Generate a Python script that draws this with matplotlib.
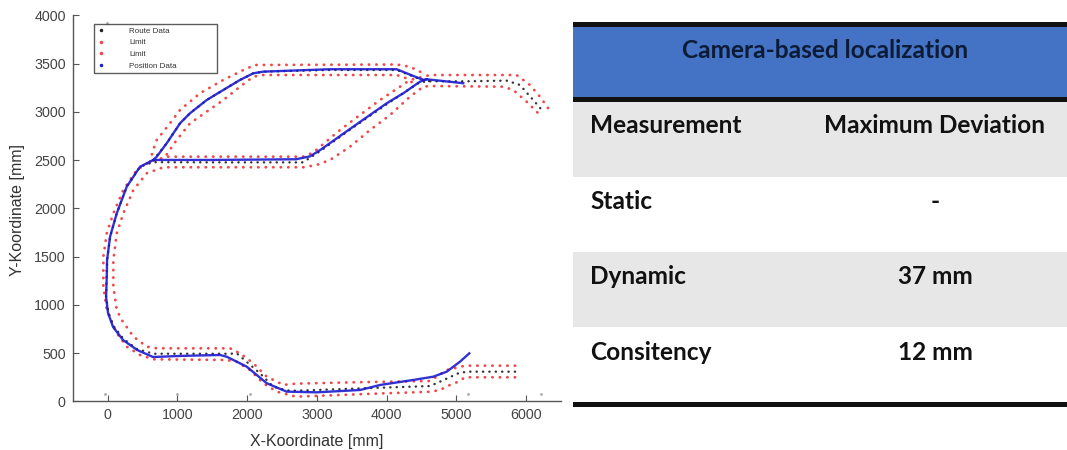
import matplotlib.pyplot as plt
from matplotlib.lines import Line2D

# --- Track data [mm] ---
# route centre line (black), outer loop and upper branch
route_outer_x = [5840, 5146, 5026, 4764, 4620, 3600, 2700, 2567, 2375, 2185, 1851, 1755, 656, 418, 226, 83, 11, -21,
                 -15, -5, 36, 132, 275, 466, 656, 1500, 2800, 3048, 3521, 4000, 4477, 4620, 5146, 5719, 5910, 6100, 6244]
route_outer_y = [309, 309, 292, 205, 160, 135, 112, 115, 153, 292, 499, 495, 495, 545, 650, 785, 925, 1086,
                 1300, 1466, 1708, 1950, 2226, 2433, 2480, 2478, 2478, 2595, 2840, 3080, 3310, 3318, 3318, 3325, 3280, 3124, 3003]
route_upper_x = [656, 848, 1039, 1182, 1421, 1659, 1898, 2089, 2232, 3188, 4143, 4286, 4477, 4620]
route_upper_y = [2503, 2676, 2883, 2987, 3124, 3228, 3332, 3401, 3418, 3435, 3435, 3395, 3340, 3318]

# limits (red), both sides of each path
limit_outer_l_x = [5840, 5122, 5026, 4907, 4764, 4620, 3600, 2700, 2567, 2424, 2232, 2041, 1851, 1700, 656, 466, 275,
                   132, -11, -60, -60, -11, 83, 226, 418, 609, 848, 2800, 2950, 3044, 3331, 3618, 3904, 4191, 4334,
                   4620, 5862, 6053, 6196, 6315]
limit_outer_l_y = [251, 251, 205, 171, 119, 101, 75, 50, 75, 102, 189, 326, 412, 430, 437, 482, 568,
                   707, 948, 1190, 1500, 1743, 1950, 2192, 2399, 2485, 2537, 2537, 2580, 2640, 2813, 2969, 3124, 3262, 3332,
                   3383, 3383, 3280, 3159, 3038]
limit_outer_r_x = [5840, 5122, 4860, 4620, 3600, 2700, 2520, 2281, 2089, 1898, 1755, 705, 562, 370, 203, 132, 83, 83,
                   132, 226, 370, 562, 800, 2805, 2997, 3188, 3474, 3761, 4048, 4334, 4525, 4620, 5671, 5814, 6005,
                   6125, 6220]
limit_outer_r_y = [371, 371, 326, 212, 200, 185, 172, 257, 396, 499, 551, 551, 568, 672, 845, 948, 1190, 1466,
                   1743, 1950, 2192, 2365, 2427, 2427, 2451, 2503, 2640, 2813, 2969, 3159, 3262, 3269, 3262, 3228, 3107,
                   3021, 2951]
limit_upper_l_x = [609, 650, 705, 895, 1039, 1325, 1659, 1946, 2113, 4143, 4334, 4477, 4573]
limit_upper_l_y = [2485, 2600, 2710, 2883, 3021, 3194, 3332, 3435, 3487, 3492, 3469, 3418, 3383]
limit_upper_r_x = [848, 991, 1182, 1421, 1659, 1898, 2089, 2232, 4143, 4286, 4381]
limit_upper_r_y = [2560, 2710, 2883, 3003, 3124, 3262, 3366, 3383, 3383, 3349, 3297]

# measured position (blue)
pos_outer_x = [5184, 5050, 4860, 4668, 4381, 3904, 3617, 3000, 2567, 2281, 1994, 1707, 1612, 1039, 652, 423, 222, 79,
               7, -21, -11, -7, 36, 132, 275, 466, 656, 1500, 2700, 2900, 3048, 3521, 4000, 4238, 4477, 4573, 5097]
pos_outer_y = [499, 412, 309, 257, 223, 171, 119, 95, 102, 189, 361, 464, 482, 472, 461, 534, 637, 772,
               917, 1083, 1300, 1466, 1708, 1950, 2226, 2433, 2503, 2503, 2510, 2540, 2606, 2848, 3090, 3194, 3314, 3339, 3298]
pos_upper_x = [656, 705, 848, 1039, 1182, 1421, 1659, 1898, 2089, 2232, 3188, 4143, 4286, 4525, 4573]
pos_upper_y = [2503, 2537, 2676, 2883, 2987, 3124, 3228, 3332, 3401, 3418, 3443, 3443, 3401, 3332, 3339]

# stray points
stray_x = [-40, 990, 2040, 5170, 6210, -10]
stray_y = [80, 80, 80, 80, 80, 3920]

legend_labels = ['Route Data', 'Limit', 'Limit', 'Position Data']

# --- Table data ---
table_title = 'Camera-based localization'
table_head = ['Measurement', 'Maximum Deviation']
table_rows = ['Static', 'Dynamic', 'Consitency']
table_vals = ['-', '37 mm', '12 mm']

RED = '#f04848'
BLUE = '#1c1cd0'
GREY = '#444444'
dots = (0, (0.1, 2.6))

fig = plt.figure(figsize=(10.67, 4.5), dpi=100)
ax = fig.add_axes([0.0681, 0.1078, 0.4578, 0.8578])

for xs, ys in [(limit_outer_l_x, limit_outer_l_y), (limit_outer_r_x, limit_outer_r_y),
               (limit_upper_l_x, limit_upper_l_y), (limit_upper_r_x, limit_upper_r_y)]:
    ax.plot(xs, ys, color=RED, lw=2.0, linestyle=dots, dash_capstyle='round')
for xs, ys in [(route_outer_x, route_outer_y), (route_upper_x, route_upper_y)]:
    ax.plot(xs, ys, color='#333333', lw=1.7, linestyle=dots, dash_capstyle='round')
for xs, ys in [(pos_outer_x, pos_outer_y), (pos_upper_x, pos_upper_y)]:
    ax.plot(xs, ys, color=BLUE, lw=1.7, alpha=0.9)
ax.plot(stray_x, stray_y, '.', color='#aaaaaa', ms=2)

ax.set_xlim(-500, 6500)
ax.set_ylim(0, 4000)
ax.set_xticks(range(0, 6001, 1000))
ax.set_yticks(range(0, 4001, 500))
for s in ['top', 'right']:
    ax.spines[s].set_visible(False)
for s in ['left', 'bottom']:
    ax.spines[s].set_color('#555555')
    ax.spines[s].set_linewidth(1.0)
ax.tick_params(direction='in', length=4, width=0.8, color='#555555', labelcolor=GREY,
               labelsize=10.3, pad=5)
for lab in ax.get_xticklabels() + ax.get_yticklabels():
    lab.set_family('Liberation Sans')
ax.set_xlabel('X-Koordinate [mm]', fontsize=11.5, color='#333333', family='Liberation Sans')
ax.set_ylabel('Y-Koordinate [mm]', fontsize=11.5, color='#333333', family='Liberation Sans')
ax.xaxis.set_label_coords(0.5, -0.083)
ax.yaxis.set_label_coords(-0.098, 0.496)

handles = [Line2D([], [], ls='none', marker='.', ms=3, color=c) for c in ['#222222', RED, RED, BLUE]]
leg = ax.legend(handles, legend_labels, loc='upper left', bbox_to_anchor=(0.0436, 0.864, 0.252, 0.114),
                mode='expand', fontsize=5.8, frameon=True, fancybox=False, borderpad=0.4,
                labelspacing=0.5, handlelength=1.0, handletextpad=3.0, borderaxespad=0)
leg.get_frame().set_edgecolor('#333333')
leg.get_frame().set_linewidth(1.0)
for t in leg.get_texts():
    t.set_family('Liberation Sans')
    t.set_color('#333333')

# --- Table on the right, in pixel coordinates ---
tx = fig.add_axes([573 / 1067, 0, 494 / 1067, 1])
tx.set_xlim(0, 494)
tx.set_ylim(450, 0)
tx.axis('off')
tx.axhspan(26.7, 97.3, color='#4472c4', lw=0)
tx.axhspan(101.7, 176.7, color='#e7e7e7', lw=0)
tx.axhspan(251.7, 327.3, color='#e7e7e7', lw=0)
for y0, y1 in [(21.7, 26.7), (97.3, 101.7), (401.7, 406.7)]:
    tx.axhspan(y0, y1, color='#111111', lw=0)

font = dict(family='Lato', weight='bold', fontsize=17.6)
tx.text(252, 58.3, table_title, ha='center', va='baseline', color='#0c1b36', **font)
tx.text(17, 133.3, table_head[0], ha='left', va='baseline', color='#111111', **font)
tx.text(362, 133.3, table_head[1], ha='center', va='baseline', color='#111111', **font)
for i, (name, val) in enumerate(zip(table_rows, table_vals)):
    yb = 208.8 + i * 75.5
    tx.text(17, yb, name, ha='left', va='baseline', color='#111111', **font)
    tx.text(362, yb, val, ha='center', va='baseline', color='#111111', **font)

fig.savefig('out.png', dpi=100)
